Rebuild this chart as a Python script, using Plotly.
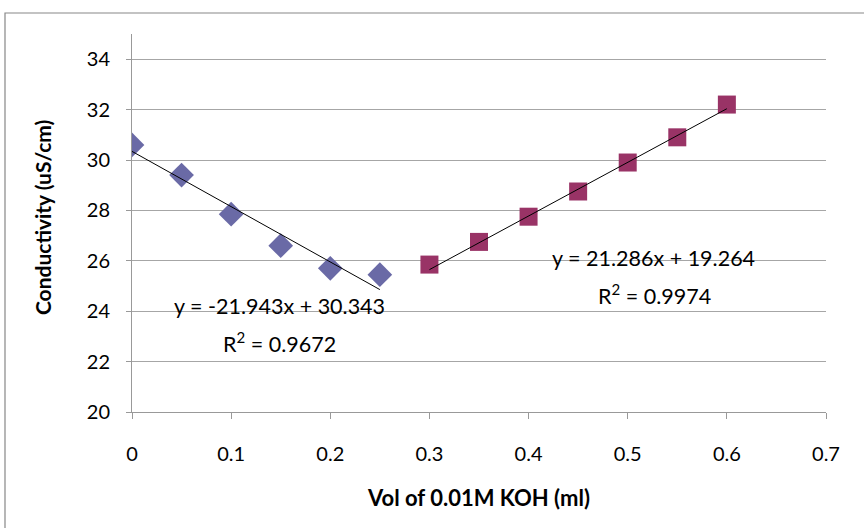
import plotly.graph_objects as go

# Data
x_acid = [0, 0.05, 0.10, 0.15, 0.20, 0.25]
y_acid = [30.6, 29.4, 27.85, 26.6, 25.7, 25.45]
x_base = [0.30, 0.35, 0.40, 0.45, 0.50, 0.55, 0.60]
y_base = [25.85, 26.75, 27.75, 28.75, 29.9, 30.9, 32.2]

# Trendline coefficients (from chart labels)
slope1, icpt1, r2_1 = -21.943, 30.343, 0.9672
slope2, icpt2, r2_2 = 21.286, 19.264, 0.9974

x_ticks = [0, 0.1, 0.2, 0.3, 0.4, 0.5, 0.6, 0.7]
x_tick_labels = ["0", "0.1", "0.2", "0.3", "0.4", "0.5", "0.6", "0.7"]

FONT = "Lato, 'Open Sans', sans-serif"

fig = go.Figure()

fig.add_trace(go.Scatter(
    x=x_acid, y=y_acid, mode="markers",
    marker=dict(symbol="diamond", size=19, color="#6A6AA6"),
    showlegend=False, hoverinfo="skip"))
fig.add_trace(go.Scatter(
    x=x_base, y=y_base, mode="markers",
    marker=dict(symbol="square", size=18, color="#993366"),
    showlegend=False, hoverinfo="skip"))

# trendlines
tx1 = [x_acid[0], x_acid[-1]]
fig.add_trace(go.Scatter(x=tx1, y=[slope1 * v + icpt1 for v in tx1], mode="lines",
                         line=dict(color="black", width=1), showlegend=False, hoverinfo="skip"))
tx2 = [x_base[0], x_base[-1]]
fig.add_trace(go.Scatter(x=tx2, y=[slope2 * v + icpt2 for v in tx2], mode="lines",
                         line=dict(color="black", width=1), showlegend=False, hoverinfo="skip"))

ann_font = dict(family=FONT, size=21.5, color="black")
fig.add_annotation(x=0.1485, y=24.2, text=f"y = {slope1}x + {icpt1}", showarrow=False, font=ann_font)
fig.add_annotation(x=0.149, y=22.75, text=f"R<sup>2</sup> = {r2_1}", showarrow=False, font=ann_font)
fig.add_annotation(x=0.5265, y=26.1, text=f"y = {slope2}x + {icpt2}", showarrow=False, font=ann_font)
fig.add_annotation(x=0.5275, y=24.65, text=f"R<sup>2</sup> = {r2_2}", showarrow=False, font=ann_font)

# y-axis title
fig.add_annotation(x=0, xref="paper", xshift=-90, y=0.513, yref="paper",
                   text="<b>Conductivity (uS/cm)</b>", textangle=-90, showarrow=False,
                   xanchor="center", yanchor="middle", font=dict(family=FONT, size=21, color="black"))

# outer chart border
fig.add_shape(type="rect", xref="paper", yref="paper",
              x0=-0.183, x1=1.2, y0=-0.5, y1=1.0556,
              line=dict(color="#888888", width=1.2), layer="below")

fig.update_layout(
    width=864, height=528,
    margin=dict(l=132, r=38, t=34, b=116),
    paper_bgcolor="white", plot_bgcolor="white",
    font=dict(family=FONT, size=20, color="black"),
    xaxis=dict(range=[0, 0.7], tickvals=x_ticks, ticktext=x_tick_labels,
               showgrid=False, showline=True, linecolor="#999999", linewidth=1,
               ticks="outside", ticklen=6, tickcolor="#999999", zeroline=False,
               tickfont=dict(size=20), ticklabelstandoff=18,
               title=dict(text="<b>Vol of 0.01M KOH (ml)</b>", font=dict(size=22), standoff=26)),
    yaxis=dict(range=[20, 35], tick0=20, dtick=2,
               showgrid=True, gridcolor="#A6A6A6", gridwidth=1,
               showline=True, linecolor="#999999", linewidth=1,
               ticks="outside", ticklen=5, tickcolor="#999999", zeroline=False,
               tickfont=dict(size=20), ticklabelstandoff=12),
)

fig.write_html("out.html", config={"displayModeBar": False},
               post_script="document.body.style.margin='0';document.body.style.overflow='hidden';")
